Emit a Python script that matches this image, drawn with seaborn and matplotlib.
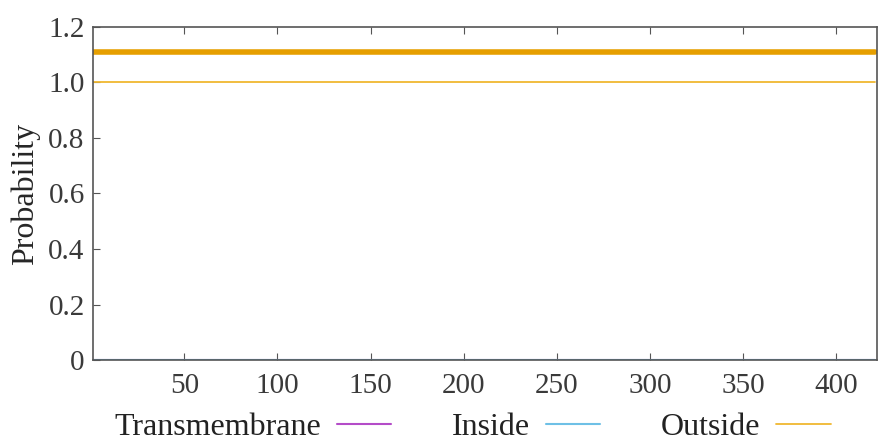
import matplotlib
matplotlib.use("Agg")
import matplotlib.pyplot as plt
import seaborn as sns

# TMHMM-style posterior probabilities, sequence of 421 residues
positions = [1, 421]
transmembrane = [0.0, 0.0]
inside = [0.0, 0.0]
outside = [1.0, 1.0]
# predicted topology bar (whole sequence outside)
topology_pos = [1, 421]
topology_level = [1.11, 1.11]

x_ticks = [50, 100, 150, 200, 250, 300, 350, 400]
y_ticks = [0, 0.2, 0.4, 0.6, 0.8, 1.0, 1.2]
y_tick_labels = ["0", "0.2", "0.4", "0.6", "0.8", "1.0", "1.2"]

sns.set_style("ticks")
plt.rcParams['font.family'] = ['Liberation Serif', 'DejaVu Serif']

c_tm = "#B44CC8"
c_in = "#6EC0E6"
c_out = "#E69F00"

fig = plt.figure(figsize=(8.86, 4.42), dpi=100)
ax = fig.add_axes([0.105, 0.1855, 0.885, 0.7535])

sns.lineplot(x=positions, y=transmembrane, color=c_tm, lw=1.5, ax=ax, label="Transmembrane")
sns.lineplot(x=positions, y=inside, color=c_in, lw=1.5, ax=ax, label="Inside")
sns.lineplot(x=positions, y=outside, color="#F0B830", lw=1.3, ax=ax, label="Outside")
sns.lineplot(x=topology_pos, y=topology_level, color=c_out, lw=4, ax=ax)

ax.set_xlim(1, 422)
ax.set_ylim(0, 1.2)
ax.set_xticks(x_ticks)
ax.set_yticks(y_ticks)
ax.set_yticklabels(y_tick_labels)
ax.set_ylabel("Probability", fontsize=23, labelpad=6)
ax.tick_params(axis="both", direction="in", labelsize=21, length=5, color="#555555",
               labelcolor="#3a3a3a", top=True, right=False)
ax.tick_params(axis="x", pad=9)
ax.tick_params(axis="y", pad=6)
for s in ax.spines.values():
    s.set_color("#555555")
    s.set_linewidth(1.2)

ax.get_legend().remove()
handles, labels = ax.get_legend_handles_labels()
fig.legend(handles[:3], labels[:3], loc="center", bbox_to_anchor=(0.533, 0.033), ncol=3,
           frameon=False, markerfirst=False, fontsize=23, handlelength=1.7,
           columnspacing=1.9, handletextpad=0.5, labelcolor="#222222")

fig.savefig("out.png", dpi=100)
